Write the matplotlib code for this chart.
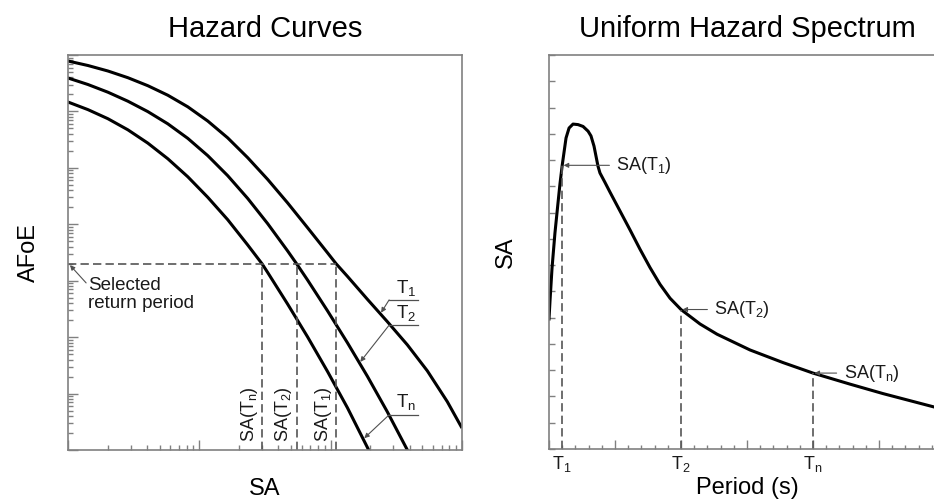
import numpy as np
import matplotlib
matplotlib.use('Agg')
import matplotlib.pyplot as plt
from matplotlib.ticker import LogLocator, MultipleLocator, NullFormatter

plt.rcParams['font.family'] = ['Liberation Sans', 'DejaVu Sans']
plt.rcParams['mathtext.fontset'] = 'custom'
plt.rcParams['mathtext.rm'] = 'Liberation Sans'
plt.rcParams['mathtext.it'] = 'Liberation Sans:italic'

# ---------------- hazard curves (SA vs annual freq. of exceedance) ----------------
sa_t1 = [0.001, 0.001419, 0.002014, 0.002858, 0.004055, 0.005754, 0.008166, 0.01159,
         0.01644, 0.02333, 0.03311, 0.04699, 0.06668, 0.09462, 0.11, 0.1343, 0.1905,
         0.2704, 0.3837, 0.5445, 0.7727, 0.9863]
afoe_t1 = [0.7826, 0.6513, 0.5204, 0.3959, 0.2856, 0.1937, 0.1207, 0.06759, 0.03402,
           0.01517, 0.006254, 0.002395, 8.70e-4, 3.124e-4, 2.0e-4, 1.192e-4, 4.68e-5,
           1.876e-5, 7.30e-6, 2.527e-6, 7.19e-7, 2.59e-7]

sa_t2 = [0.001, 0.001419, 0.002014, 0.002858, 0.004055, 0.005754, 0.008166, 0.01159,
         0.01644, 0.02333, 0.03311, 0.04699, 0.055, 0.06668, 0.09462, 0.1343, 0.1905,
         0.2704, 0.3837, 0.411]
afoe_t2 = [0.3911, 0.2999, 0.2190, 0.1517, 0.09919, 0.06030, 0.03334, 0.01646,
           0.007275, 0.002878, 0.001029, 3.376e-4, 2.0e-4, 1.029e-4, 2.926e-5, 7.92e-6,
           2.019e-6, 4.72e-7, 1.0e-7, 7.2e-8]

sa_tn = [0.001, 0.001419, 0.002014, 0.002858, 0.004055, 0.005754, 0.008166, 0.01159,
         0.01644, 0.02333, 0.03, 0.03311, 0.04699, 0.06668, 0.09462, 0.1343, 0.1905,
         0.2042]
afoe_tn = [0.1468, 0.1076, 0.07424, 0.04719, 0.02742, 0.01450, 0.006956, 0.003011,
           0.001207, 4.312e-4, 2.0e-4, 1.404e-4, 3.862e-5, 1.012e-5, 2.465e-6, 5.58e-7,
           1.108e-7, 7.86e-8]

afoe_selected = 2.0e-4
sa_selected = [0.03, 0.055, 0.11]          # SA(Tn), SA(T2), SA(T1)
sel_names = ['n', '2', '1']

# ---------------- uniform hazard spectrum ----------------
period = [0.0, 0.008, 0.023, 0.045, 0.068, 0.083, 0.1, 0.129, 0.152, 0.182, 0.22,
          0.258, 0.296, 0.318, 0.341, 0.356, 0.371, 0.386, 0.424, 0.462, 0.538, 0.614,
          0.689, 0.765, 0.841, 0.917, 1.0, 1.144, 1.273, 1.523, 1.773, 2.0, 2.28,
          2.53, 2.917, 3.0]
sa_uhs = [4.95, 5.67, 6.89, 8.22, 9.36, 10.09, 10.8, 11.84, 12.22, 12.37, 12.35,
          12.28, 12.1, 11.92, 11.53, 11.15, 10.77, 10.51, 10.15, 9.78, 9.06, 8.34,
          7.61, 6.91, 6.27, 5.74, 5.31, 4.76, 4.37, 3.77, 3.29, 2.89, 2.47,
          2.11, 1.6, 1.49]
t_periods = [0.1, 1.0, 2.0]
t_names = ['1', '2', 'n']

spine_c = '#808080'
dash_c = '#555555'
arrow_c = '#505050'
text_c = '#1a1a1a'


def sub(name, base='T'):
    return base + r'$_\mathrm{' + name + '}$'


fig = plt.figure(figsize=(9.34, 5.01), dpi=100)

# ======== left: hazard curves ========
ax1 = fig.add_axes([68/934, 51/501, 394/934, 395/501])
ax1.set_xscale('log')
ax1.set_yscale('log')
ax1.set_xlim(1e-3, 1)
ax1.set_ylim(1e-7, 1)

for sa, af in [(sa_t1, afoe_t1), (sa_t2, afoe_t2), (sa_tn, afoe_tn)]:
    ax1.plot(sa, af, color='black', lw=2.2, solid_joinstyle='round')

ax1.plot([1e-3, max(sa_selected)], [afoe_selected, afoe_selected],
         color=dash_c, lw=1.2, ls=(0, (5, 2.5)))
for sa, nm in zip(sa_selected, sel_names):
    ax1.plot([sa, sa], [1e-7, afoe_selected], color=dash_c, lw=1.2, ls=(0, (5, 2.5)))
    ax1.annotate('SA(' + sub(nm) + ')', xy=(sa, 0.02),
                 xycoords=('data', 'axes fraction'), xytext=(-1.5, 0),
                 textcoords='offset points', rotation=90, ha='right', va='bottom',
                 fontsize=13, color=text_c)

ax1.annotate('', xy=(0.005, 0.468), xycoords='axes fraction',
             xytext=(0.046, 0.423), textcoords='axes fraction',
             arrowprops=dict(arrowstyle='-|>', color=arrow_c, lw=0.8,
                             mutation_scale=7, shrinkA=0, shrinkB=0))
ax1.text(0.051, 0.438, 'Selected\nreturn period', transform=ax1.transAxes,
         ha='left', va='top', fontsize=13.5, linespacing=1.1, color=text_c)

# curve labels with leader lines
leaders = [('1', sa_t1, afoe_t1, 0.239, 0.380),
           ('2', sa_t2, afoe_t2, 0.1656, 0.316),
           ('n', sa_tn, afoe_tn, 0.177, 0.089)]
for nm, sa, af, tip_sa, uy in leaders:
    tip_af = 10 ** np.interp(np.log10(tip_sa), np.log10(sa), np.log10(af))
    x0, x1 = 0.815, 0.888
    ax1.plot([x0, x1], [uy, uy], color=arrow_c, lw=0.9, transform=ax1.transAxes)
    ax1.annotate('', xy=(tip_sa, tip_af), xycoords='data',
                 xytext=(x0, uy), textcoords='axes fraction',
                 arrowprops=dict(arrowstyle='-|>', color=arrow_c, lw=0.8,
                                 mutation_scale=7, shrinkA=0, shrinkB=1))
    ax1.text((x0 + x1) / 2 + 0.006, uy + 0.006, sub(nm), transform=ax1.transAxes,
             ha='center', va='bottom', fontsize=13.5, color=text_c)

ax1.xaxis.set_major_locator(LogLocator(base=10, numticks=10))
ax1.xaxis.set_minor_locator(LogLocator(base=10, subs=np.arange(2, 10), numticks=10))
ax1.yaxis.set_major_locator(LogLocator(base=10, numticks=10))
ax1.yaxis.set_minor_locator(LogLocator(base=10, subs=np.arange(2, 10), numticks=10))
for axis in (ax1.xaxis, ax1.yaxis):
    axis.set_major_formatter(NullFormatter())
    axis.set_minor_formatter(NullFormatter())
ax1.tick_params(which='both', direction='in', color=spine_c, width=1.0,
                top=False, right=False)
ax1.tick_params(which='major', length=7)
ax1.tick_params(which='minor', length=3.5)

ax1.set_title('Hazard Curves', fontsize=21, pad=13)
ax1.set_xlabel('SA', fontsize=17)
ax1.set_ylabel('AFoE', fontsize=17)
ax1.xaxis.set_label_coords(0.5, -0.07)
ax1.yaxis.set_label_coords(-0.07, 0.5)

# ======== right: uniform hazard spectrum ========
ax2 = fig.add_axes([549/934, 52/501, 396/934, 394/501])
ax2.set_xlim(0, 3.0)
ax2.set_ylim(0, 15)
ax2.plot(period, sa_uhs, color='black', lw=2.2, solid_joinstyle='round')

offsets = [39, 24, 22]
for tp, nm, off in zip(t_periods, t_names, offsets):
    sa_t = np.interp(tp, period, sa_uhs)
    ax2.plot([tp, tp], [0, sa_t], color=dash_c, lw=1.2, ls=(0, (5, 2.5)))
    ax2.annotate('SA(' + sub(nm) + ')', xy=(tp, sa_t), xytext=(off, 0),
                 textcoords='offset points', ha='left', va='center', fontsize=13,
                 color=text_c,
                 arrowprops=dict(arrowstyle='-|>', color=arrow_c, lw=0.8,
                                 mutation_scale=7, shrinkA=3, shrinkB=1))
    ax2.text(tp, -0.013, sub(nm), transform=ax2.get_xaxis_transform(),
             ha='center', va='top', fontsize=13, color=text_c)

ax2.xaxis.set_major_locator(MultipleLocator(0.5))
ax2.xaxis.set_minor_locator(MultipleLocator(0.1))
ax2.yaxis.set_major_locator(MultipleLocator(1))
ax2.xaxis.set_major_formatter(NullFormatter())
ax2.yaxis.set_major_formatter(NullFormatter())
ax2.tick_params(which='both', direction='in', color=spine_c, width=1.0,
                top=False, right=False)
ax2.tick_params(axis='x', which='major', length=6.5)
ax2.tick_params(axis='x', which='minor', length=3)
ax2.tick_params(axis='y', which='major', length=4)

ax2.set_title('Uniform Hazard Spectrum', fontsize=21, pad=13)
ax2.set_xlabel('Period (s)', fontsize=17)
ax2.set_ylabel('SA', fontsize=17)
ax2.xaxis.set_label_coords(0.5, -0.07)
ax2.yaxis.set_label_coords(-0.081, 0.5)

for ax in (ax1, ax2):
    for sp in ax.spines.values():
        sp.set_color(spine_c)
        sp.set_linewidth(1.2)

fig.savefig('out.png', dpi=100)
